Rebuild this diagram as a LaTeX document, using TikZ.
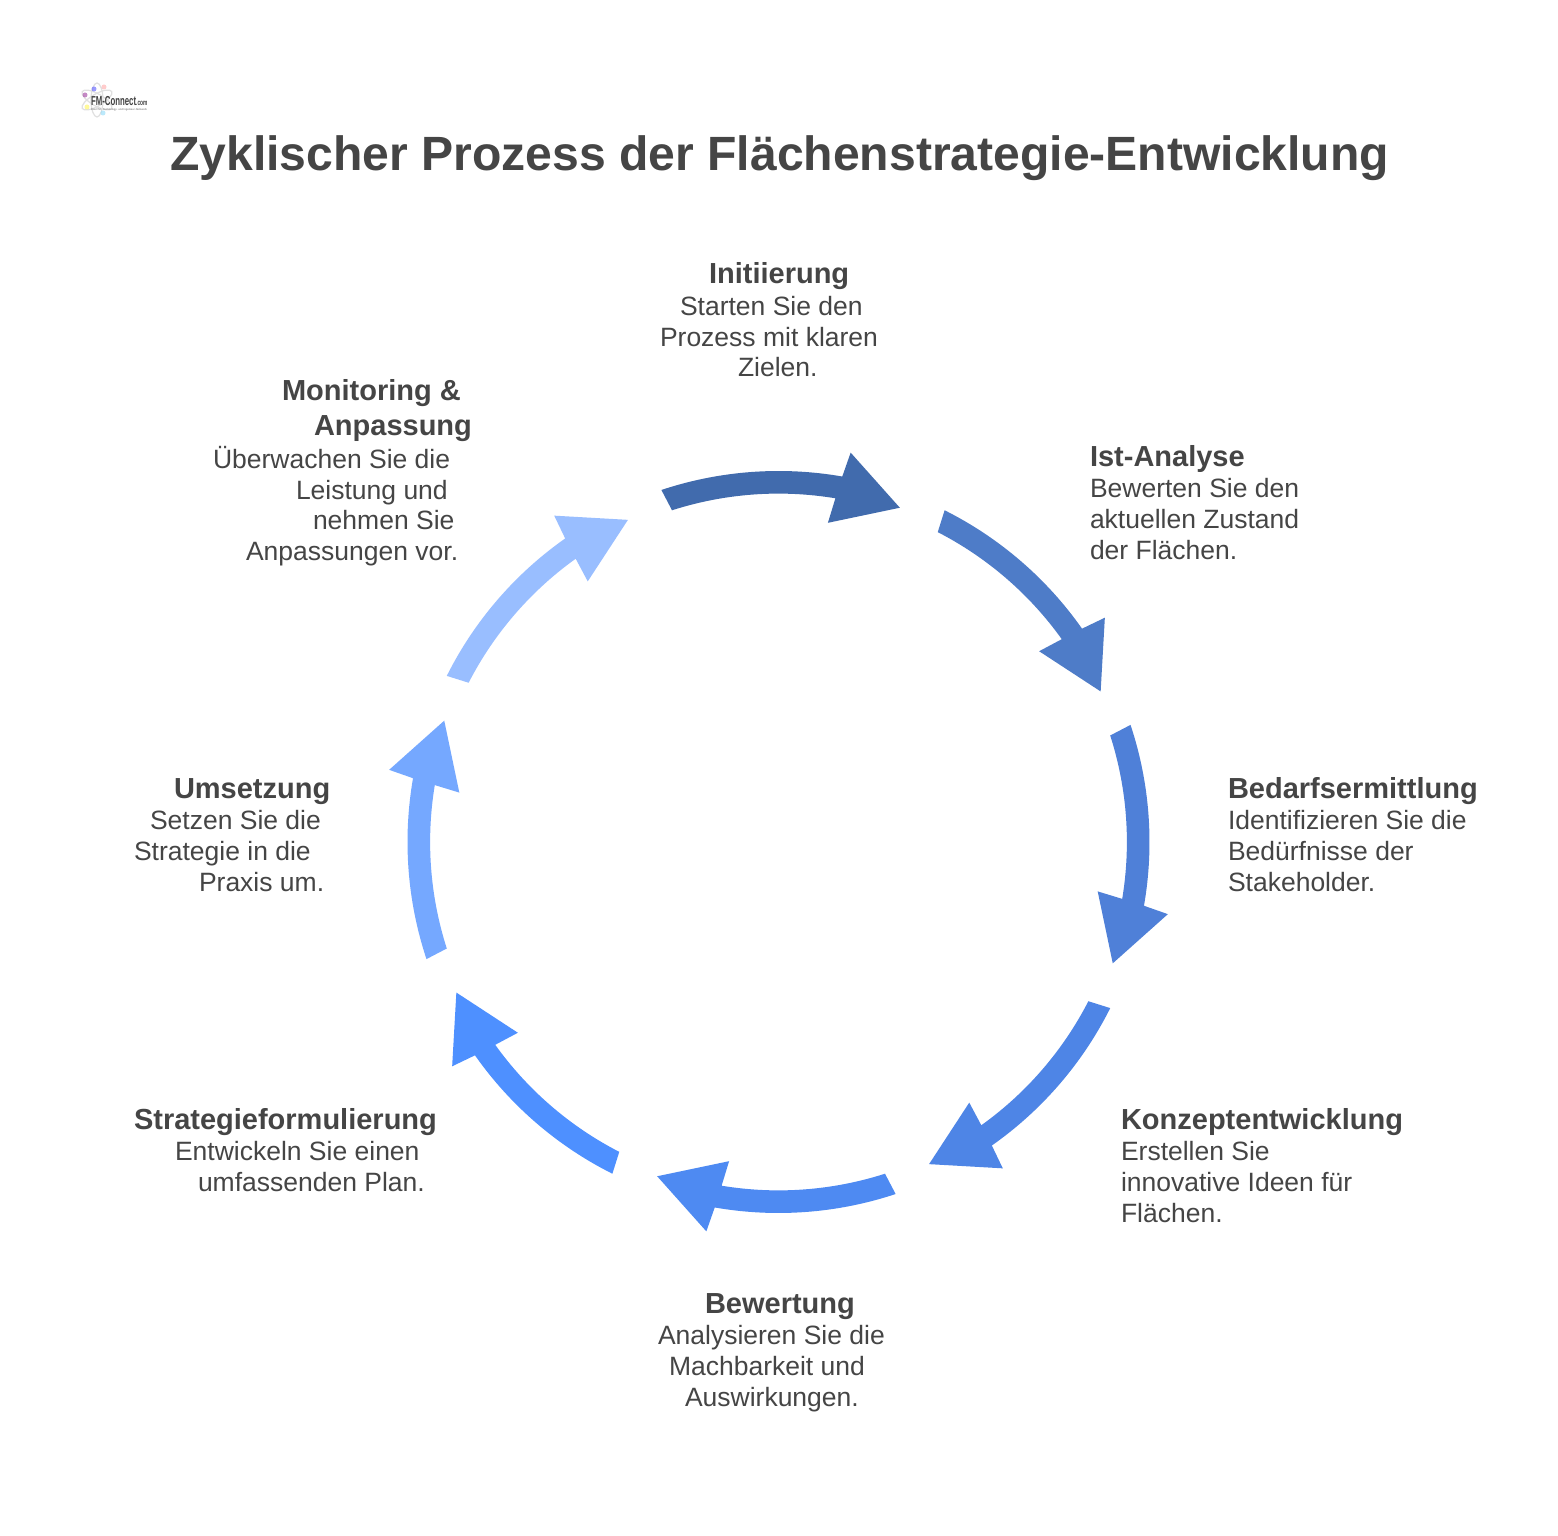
\documentclass[tikz,border=0pt]{standalone}
\usepackage{fontspec}
\setmainfont{Liberation Sans}
\definecolor{ink}{HTML}{454545}
\definecolor{arA}{HTML}{416BAD}
\definecolor{arB}{HTML}{4E7CC8}
\definecolor{arC}{HTML}{4F80D8}
\definecolor{arD}{HTML}{4E85E6}
\definecolor{arE}{HTML}{4E8AF2}
\definecolor{arF}{HTML}{4E90FF}
\definecolor{arG}{HTML}{75A8FF}
\definecolor{arH}{HTML}{99BEFF}
\newcommand{\headfont}{\fontsize{29}{35}\selectfont\bfseries}
\newcommand{\bodyfont}{\fontsize{26.5}{30.7}\selectfont}
\newcommand{\hd}[1]{{\headfont\rule{0pt}{25pt}#1}}
\newcommand{\ind}[1]{\hspace*{#1pt}}
% name, left x, first baseline from the top, text
\newcommand{\lab}[4]{\node[lab] (#1) at (#2,{1535-#3+25}) {#4};}
\newcommand{\cyc}[2]{%
  \begin{scope}[shift={(778.5,693)},rotate=#1]
    \fill[#2] (108.4:371) arc[start angle=108.4,end angle=80.1,radius=371]
      -- (79.5:396) -- (70.05:355.6) -- (81.2:323) -- (80.6:348.4)
      arc[start angle=80.6,end angle=107.8,radius=348.4] -- cycle;
  \end{scope}}
\tikzset{
  lab/.style={anchor=north west,inner sep=0pt,outer sep=0pt,align=left,text=ink,font=\bodyfont},
  orbit/.style={draw=black!12,line width=1.2pt,fill=none},
  speck/.style={circle,inner sep=0pt,minimum size=5pt,opacity=.65}
}
\begin{document}
\begin{tikzpicture}[x=1pt,y=1pt]
\useasboundingbox (0,0) rectangle (1558,1535);
\fill[white] (0,0) rectangle (1558,1535);
% logo
\begin{scope}[shift={(97,1435)}]
  \draw[orbit,rotate=30] (0,0) ellipse (17 and 6);
  \draw[orbit,rotate=90] (0,0) ellipse (17 and 6);
  \draw[orbit,rotate=150] (0,0) ellipse (17 and 6);
\end{scope}
\node[speck,fill=violet!70] (dotA) at (85,1440) {};
\node[speck,fill=blue!60] (dotB) at (94,1446) {};
\node[speck,fill=red!30] (dotC) at (104,1448) {};
\node[speck,fill=yellow!60] (dotD) at (87,1428) {};
\node[speck,fill=cyan!40] (dotE) at (103,1422) {};
\node[inner sep=0pt,anchor=base west,text=black!75,xscale=.6,transform shape,font=\fontsize{13}{13}\selectfont\bfseries] (logotext) at (91,1429) {FM-Connect\fontsize{8}{8}\selectfont.com};
\node[inner sep=0pt,anchor=base west,text=black!60,font=\fontsize{2.7}{4}\selectfont] (logotag) at (91,1424.5) {Das FM-, Technology- und Ingenieur-Netzwerk};
% title
\node[inner sep=0pt,anchor=base west,text=ink,font=\fontsize{48.1}{55}\selectfont\bfseries] (title) at (170,1364.5) {Zyklischer Prozess der Flächenstrategie-Entwicklung};
% arrows
\cyc{0}{arA}
\cyc{-45}{arB}
\cyc{-90}{arC}
\cyc{-135}{arD}
\cyc{-180}{arE}
\cyc{-225}{arF}
\cyc{-270}{arG}
\cyc{-315}{arH}
% labels
\lab{initiierung}{660}{284}{\ind{49}\hd{Initiierung}\\[.7pt]\ind{20}Starten Sie den\\Prozess mit klaren\\\ind{78}Zielen.}
\lab{ist}{1090}{466.5}{\hd{Ist-Analyse}\\[.7pt]Bewerten Sie den\\aktuellen Zustand\\der Flächen.}
\lab{bedarf}{1228}{798.5}{\hd{Bedarfsermittlung}\\[.7pt]Identifizieren Sie die\\Bedürfnisse der\\Stakeholder.}
\lab{konzept}{1121}{1129.5}{\hd{Konzeptentwicklung}\\[.7pt]Erstellen Sie\\innovative Ideen für\\Flächen.}
\lab{bewertung}{658}{1313.5}{\ind{47}\hd{Bewertung}\\[.7pt]Analysieren Sie die\\\ind{11}Machbarkeit und\\\ind{27}Auswirkungen.}
\lab{strategie}{134}{1129.5}{\hd{Strategieformulierung}\\[.7pt]\ind{41}Entwickeln Sie einen\\\ind{64}umfassenden Plan.}
\lab{umsetzung}{134}{798.5}{\ind{40}\hd{Umsetzung}\\[.7pt]\ind{16}Setzen Sie die\\Strategie in die\\\ind{65}Praxis um.}
\lab{monitoring}{213}{400.5}{\ind{69}\hd{Monitoring \&}\\[3pt]\ind{101}\hd{Anpassung}\\[2pt]Überwachen Sie die\\\ind{83}Leistung und\\\ind{100}nehmen Sie\\\ind{33}Anpassungen vor.}
\end{tikzpicture}
\end{document}
